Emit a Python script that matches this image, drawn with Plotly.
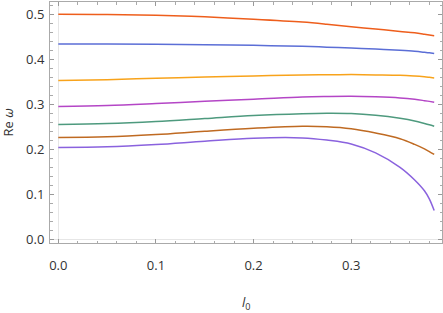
import plotly.graph_objects as go

l0 = [0.0, 0.05, 0.1, 0.15, 0.2, 0.25, 0.275, 0.3, 0.325, 0.35, 0.365, 0.375, 0.38, 0.385]

mode1 = [0.5000, 0.4995, 0.4975, 0.4940, 0.4888, 0.4825, 0.4778, 0.4723, 0.4670, 0.4617, 0.4585, 0.4555, 0.4539, 0.4523]
mode2 = [0.4338, 0.4336, 0.4332, 0.4322, 0.4308, 0.4286, 0.4268, 0.4249, 0.4225, 0.4197, 0.4175, 0.4153, 0.4141, 0.4128]
mode3 = [0.3525, 0.3545, 0.3577, 0.3606, 0.3630, 0.3650, 0.3656, 0.3658, 0.3652, 0.3643, 0.3625, 0.3608, 0.3597, 0.3585]
mode4 = [0.2950, 0.2971, 0.3015, 0.3066, 0.3110, 0.3160, 0.3172, 0.3177, 0.3165, 0.3140, 0.3110, 0.3080, 0.3064, 0.3046]
mode5 = [0.2553, 0.2571, 0.2616, 0.2682, 0.2749, 0.2790, 0.2800, 0.2794, 0.2755, 0.2688, 0.2630, 0.2575, 0.2545, 0.2512]
mode6 = [0.2263, 0.2276, 0.2328, 0.2401, 0.2466, 0.2510, 0.2500, 0.2455, 0.2360, 0.2235, 0.2110, 0.2010, 0.1950, 0.1885]
mode7 = [0.2042, 0.2054, 0.2106, 0.2180, 0.2246, 0.2253, 0.2205, 0.2120, 0.1920, 0.1600, 0.1320, 0.1080, 0.0900, 0.0640]

series = [mode1, mode2, mode3, mode4, mode5, mode6, mode7]
colors = ["#EE5E1C", "#5B6ED6", "#F8A31B", "#B446C6", "#4E9A7E", "#BF6A22", "#8A62DE"]

fig = go.Figure()
for ys, c in zip(series, colors):
    fig.add_trace(go.Scatter(x=l0, y=ys, mode="lines",
                             line=dict(color=c, width=1.5, shape="spline", smoothing=1.0),
                             showlegend=False, hoverinfo="skip"))

font = dict(family="Open Sans, Noto Sans, sans-serif", size=13, color="#333333")
axis_common = dict(
    showgrid=False, zeroline=True, zerolinecolor="#E6E6E6", zerolinewidth=1,
    showline=True, linecolor="#AAAAAA", linewidth=1, mirror="allticks",
    ticks="inside", ticklen=4, tickcolor="#999999", tickwidth=1,
    tickfont=font,
)
fig.update_layout(
    width=443, height=313,
    margin=dict(l=50, r=1, t=2, b=70),
    plot_bgcolor="white", paper_bgcolor="white",
    font=font,
    xaxis=dict(range=[-0.0085, 0.393], tickvals=[0.0, 0.1, 0.2, 0.3],
               ticktext=["0.0", "0.1", "0.2", "0.3"], ticklabelstandoff=10,
               minor=dict(dtick=0.02, tick0=0, ticks="inside", ticklen=2.5, tickcolor="#AAAAAA"),
               **axis_common),
    yaxis=dict(range=[-0.008, 0.527], tickvals=[0.0, 0.1, 0.2, 0.3, 0.4, 0.5],
               ticktext=["0.0", "0.1", "0.2", "0.3", "0.4", "0.5"], ticklabelstandoff=2,
               minor=dict(dtick=0.02, tick0=0, ticks="inside", ticklen=2.5, tickcolor="#AAAAAA"),
               **axis_common),
    annotations=[
        dict(text="<i>l</i><sub>0</sub>", xref="paper", yref="paper", x=0.5, y=0,
             xanchor="center", yanchor="middle", yshift=-60, showarrow=False, font=font),
        dict(text="Re <i>ω</i>", xref="paper", yref="paper", x=0, y=0.5,
             xanchor="center", yanchor="middle", xshift=-43, textangle=-90,
             showarrow=False, font=font),
    ],
)
fig.write_html("out.html", config={"displayModeBar": False},
               post_script="document.body.style.margin='0';")
